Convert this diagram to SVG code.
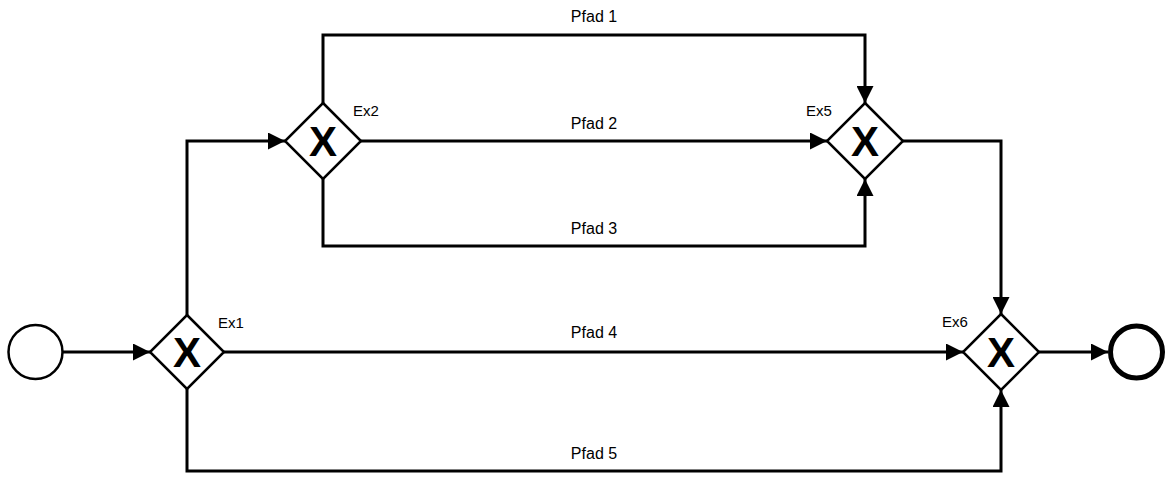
<svg xmlns="http://www.w3.org/2000/svg" width="1168" height="504" viewBox="0 0 1168 504">
  <style>
    .flow { fill: none; stroke: #000; stroke-width: 3; }
    .gw { fill: #fff; stroke: #000; stroke-width: 2.5; }
    .gwx { font-family: "Liberation Sans", Arial, sans-serif; font-weight: bold; font-size: 42px; text-anchor: middle; fill: #000; }
    .lbl { font-family: "Liberation Sans", Arial, sans-serif; font-size: 15px; fill: #000; }
    .path-lbl { font-family: "Liberation Sans", Arial, sans-serif; font-size: 16px; text-anchor: middle; fill: #000; }
    .ev-start { fill: #fff; stroke: #000; stroke-width: 2.5; }
    .ev-end { fill: #fff; stroke: #000; stroke-width: 5; }
  </style>
  <defs>
    <marker id="arrow" markerUnits="userSpaceOnUse" markerWidth="17" markerHeight="17" viewBox="0 0 16 16" refX="16" refY="8" orient="auto">
      <path d="M0 0 L16 8 L0 16 Z" fill="#000"/>
    </marker>
  </defs>
  <rect width="1168" height="504" fill="#fff"/>

  <g id="connectors">
    <path class="flow" d="M63 352 H150" marker-end="url(#arrow)"/>
    <path class="flow" d="M187 315 V141 H285" marker-end="url(#arrow)"/>
    <path class="flow" d="M323 103 V35 H865 V103" marker-end="url(#arrow)"/>
    <path class="flow" d="M361 141 H827" marker-end="url(#arrow)"/>
    <path class="flow" d="M323 179 V246 H865 V179" marker-end="url(#arrow)"/>
    <path class="flow" d="M903 141 H1001 V314" marker-end="url(#arrow)"/>
    <path class="flow" d="M224 352 H963" marker-end="url(#arrow)"/>
    <path class="flow" d="M187 389 V471 H1001 V390" marker-end="url(#arrow)"/>
    <path class="flow" d="M1039 352 H1108" marker-end="url(#arrow)"/>
    <text class="path-lbl" x="594" y="22">Pfad 1</text>
    <text class="path-lbl" x="594" y="129">Pfad 2</text>
    <text class="path-lbl" x="594" y="234">Pfad 3</text>
    <text class="path-lbl" x="594" y="338">Pfad 4</text>
    <text class="path-lbl" x="594" y="459">Pfad 5</text>
  </g>

  <g id="start">
    <circle class="ev-start" cx="35.5" cy="352" r="27"/>
  </g>

  <g id="ex1">
    <path class="gw" d="M187 315 L224 352 L187 389 L150 352 Z"/>
    <text class="gwx" x="187" y="367">X</text>
    <text class="lbl" x="218" y="328">Ex1</text>
  </g>

  <g id="ex2">
    <path class="gw" d="M323 103 L361 141 L323 179 L285 141 Z"/>
    <text class="gwx" x="323" y="156">X</text>
    <text class="lbl" x="353" y="116">Ex2</text>
  </g>

  <g id="ex5">
    <path class="gw" d="M865 103 L903 141 L865 179 L827 141 Z"/>
    <text class="gwx" x="865" y="156">X</text>
    <text class="lbl" x="806" y="116">Ex5</text>
  </g>

  <g id="ex6">
    <path class="gw" d="M1001 314 L1039 352 L1001 390 L963 352 Z"/>
    <text class="gwx" x="1001" y="367">X</text>
    <text class="lbl" x="942" y="327">Ex6</text>
  </g>

  <g id="end">
    <circle class="ev-end" cx="1136.5" cy="352" r="26"/>
  </g>
</svg>
